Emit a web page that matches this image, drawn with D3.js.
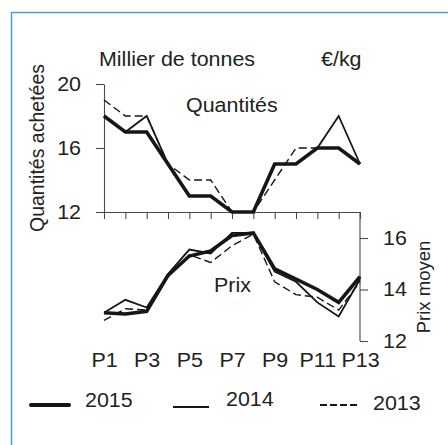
<!DOCTYPE html>
<html>
<head>
<meta charset="utf-8">
<script src="https://cdn.jsdelivr.net/npm/d3@7"></script>
<style>
  body { margin: 0; background: #fff; }
  svg { display: block; }
  text { font-family: "Liberation Sans", Arial, Helvetica, sans-serif; fill: #222; }
</style>
</head>
<body>
<svg id="chart" width="448" height="445"></svg>
<script>
// periods P1..P13
const periods = ["P1","P2","P3","P4","P5","P6","P7","P8","P9","P10","P11","P12","P13"];
const years = ["2015", "2014", "2013"];

// quantités achetées (milliers de tonnes)
const qty2015 = [18, 17, 17, 15, 13, 13, 12, 12, 15, 15, 16, 16, 15];
const qty2014 = [18, 17, 18, 15, 13, 13, 12, 12, 15, 15, 16, 18, 15];
const qty2013 = [19, 18, 18, 15, 14, 14, 12, 12, 14, 16, 16, 16, 15];

// prix moyen (€/kg)
const prix2015 = [13.1, 13.05, 13.15, 14.55, 15.3, 15.5, 16.1, 16.2, 14.8, 14.4, 14.0, 13.5, 14.5];
const prix2014 = [13.1, 13.6, 13.3, 14.6, 15.55, 15.4, 16.2, 16.2, 14.7, 14.3, 13.5, 12.95, 14.4];
const prix2013 = [12.8, 13.25, 13.2, 14.5, 15.35, 15.05, 15.7, 16.15, 14.3, 13.8, 13.7, 13.2, 14.3];

const qtyTicks = [12, 16, 20];
const prixTicks = [12, 14, 16];

const svg = d3.select("#chart");
const ink = "#161616";
const axisCol = "#4a4a4a";
const fs = 19.5, sx = 1.1;   // text is slightly wider than tall in the original

// blue frame, running off the right and bottom edges
svg.append("rect")
    .attr("x", 11.5).attr("y", 12.5)
    .attr("width", 500).attr("height", 500)
    .attr("fill", "none")
    .attr("stroke", "#4aa0dc")
    .attr("stroke-width", 1.5);

let x = d3.scalePoint().domain(periods).range([104, 360]);
let yQ = d3.scaleLinear().domain([12, 20]).range([212, 84]);
let yP = d3.scaleLinear().domain([12, 16]).range([341, 238]);

const styles = {
    "2015": {w: 3.6, dash: null},
    "2014": {w: 1.8, dash: null},
    "2013": {w: 1.4, dash: "8,4"}
};

function label(txt, x0, y0, anchor) {
    svg.append("text")
        .attr("transform", `translate(${x0},${y0}) scale(${sx},1)`)
        .attr("text-anchor", anchor || "start")
        .style("font-size", fs + "px")
        .text(txt);
}

// stretch the tick labels of an axis group the same way
function stretch(g) {
    g.selectAll(".tick text")
        .attr("x", function() { return +d3.select(this).attr("x") / sx; })
        .attr("transform", `scale(${sx},1)`)
        .style("font-size", fs + "px")
        .attr("font-family", null)
        .attr("fill", "#222");
}

// upper left axis
let gQ = svg.append("g")
    .attr("transform", "translate(104,0)")
    .call(d3.axisLeft(yQ).tickValues(qtyTicks).tickFormat(d3.format("d"))
        .tickSize(8).tickSizeOuter(0).tickPadding(15));
gQ.call(stretch);

// x axis between the two panels
let gX = svg.append("g")
    .attr("transform", "translate(0,212)")
    .call(d3.axisBottom(x).tickSize(7).tickSizeOuter(0).tickFormat(""));

// right axis for prices, joined to the x axis
svg.append("line")
    .attr("x1", 360).attr("x2", 360)
    .attr("y1", 212).attr("y2", yP(12));
let gP = svg.append("g")
    .attr("transform", "translate(360,0)")
    .call(d3.axisRight(yP).tickValues(prixTicks).tickFormat(d3.format("d"))
        .tickSize(8).tickSizeOuter(0).tickPadding(15));
gP.select(".domain").remove();
gP.call(stretch);

// period labels below the price panel
let gL = svg.append("g")
    .attr("transform", "translate(0,348)")
    .call(d3.axisBottom(x).tickValues(periods.filter((d, i) => i % 2 === 0)).tickSize(0).tickPadding(0));
gL.select(".domain").remove();
gL.selectAll(".tick text").attr("dy", "1em");
gL.call(stretch);

svg.selectAll(".domain, .tick line, line").attr("stroke", axisCol).attr("stroke-width", 1.1);

// lines
let lineQ = d3.line().x((d, i) => x(periods[i])).y(d => yQ(d));
let lineP = d3.line().x((d, i) => x(periods[i])).y(d => yP(d));

const qty = {"2015": qty2015, "2014": qty2014, "2013": qty2013};
const prix = {"2015": prix2015, "2014": prix2014, "2013": prix2013};

// draw the thin ones first so the thick 2015 sits on top
["2013", "2014", "2015"].forEach(yr => {
    [[qty[yr], lineQ], [prix[yr], lineP]].forEach(([vals, gen]) => {
        svg.append("path")
            .attr("d", gen(vals))
            .attr("fill", "none")
            .attr("stroke", ink)
            .attr("stroke-width", styles[yr].w)
            .attr("stroke-dasharray", styles[yr].dash)
            .attr("stroke-linejoin", "miter");
    });
});

// titles
label("Millier de tonnes", 99, 66);
label("€/kg", 321, 66);
label("Quantités", 186, 112);
label("Prix", 214, 292);

svg.append("text")
    .attr("transform", "translate(44,148) rotate(-90)")
    .attr("text-anchor", "middle")
    .style("font-size", fs + "px")
    .text("Quantités achetées");

svg.append("text")
    .attr("transform", "translate(430,287) rotate(-90)")
    .attr("text-anchor", "middle")
    .style("font-size", "18.5px")
    .text("Prix moyen");

// legend
const legendPos = [
    {yr: "2015", x1: 31, x2: 69, ly: 405, tx: 85, ty: 407},
    {yr: "2014", x1: 173, x2: 209, ly: 407, tx: 226, ty: 406},
    {yr: "2013", x1: 320, x2: 357, ly: 405, tx: 373, ty: 410}
];
legendPos.forEach(d => {
    svg.append("line")
        .attr("x1", d.x1).attr("x2", d.x2)
        .attr("y1", d.ly).attr("y2", d.ly)
        .attr("stroke", ink)
        .attr("stroke-width", d.yr === "2015" ? 4 : 1.8)
        .attr("stroke-linecap", d.yr === "2015" ? "round" : "butt")
        .attr("stroke-dasharray", styles[d.yr].dash ? "7,3" : null);
    label(d.yr, d.tx, d.ty);
});
</script>
</body>
</html>
